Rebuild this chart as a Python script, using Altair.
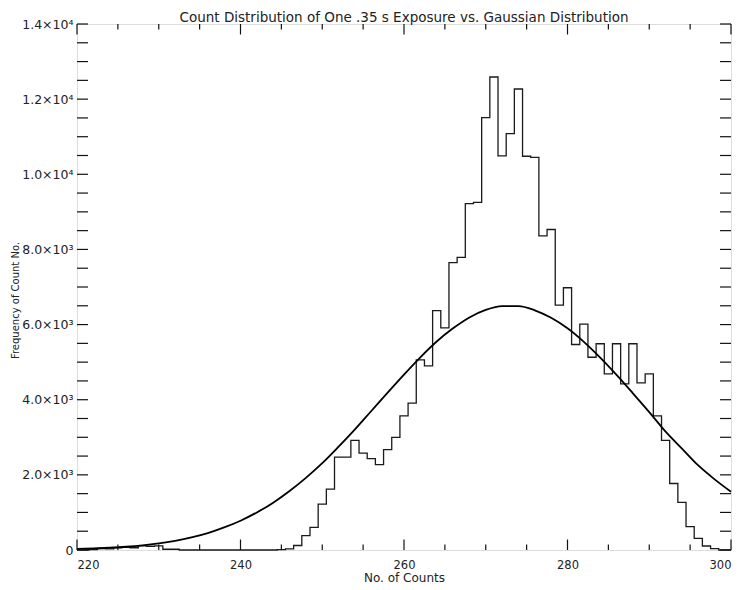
import altair as alt
import pandas as pd

# Histogram: counts per integer bin (No. of Counts)
hist_x = list(range(220, 301))
hist_y = [
    0, 0, 10, 40, 30, 60, 70, 60, 110, 100,          # 220-229
    110, 20, 20, 0, 0, 0, 0, 0, 0, 0,                # 230-239
    0, 0, 0, 0, 0, 10, 30, 120, 380, 600,            # 240-249
    1220, 1620, 2470, 2470, 2920, 2580, 2430, 2270, 2670, 3000,   # 250-259
    3570, 3910, 5060, 4900, 6370, 5910, 7650, 7790, 9220, 9250,   # 260-269
    11510, 12590, 10490, 11080, 12270, 10480, 10450, 8360, 8530, 6520,  # 270-279
    6980, 5470, 6010, 5130, 5490, 4690, 5490, 4420, 5490, 4450,   # 280-289
    4690, 3570, 2920, 1770, 1270, 620, 310, 106, 35, 0,           # 290-299
    0,                                                            # 300
]

# Gaussian curve, values
gauss_x = list(range(220, 301, 2))
gauss_y = [
    27, 40, 60, 87, 124, 176, 244, 333, 448, 600,
    780, 1000, 1260, 1570, 1920, 2310, 2750, 3210, 3700, 4190,
    4670, 5130, 5550, 5900, 6190, 6390, 6490, 6490, 6380, 6180,
    5900, 5540, 5120, 4660, 4170, 3670, 3150, 2700, 2250, 1880,
    1550,
]

x_major = [220, 240, 260, 280, 300]
x_minor = [225, 230, 235, 245, 250, 255, 265, 270, 275, 285, 290, 295]
y_ticks = list(range(0, 14001, 500))
y_major = [0, 2000, 4000, 6000, 8000, 10000, 12000, 14000]
y_labels = ["0", "2.0×10³", "4.0×10³", "6.0×10³", "8.0×10³",
            "1.0×10⁴", "1.2×10⁴", "1.4×10⁴"]

title_text = "Count Distribution of One .35 s Exposure vs. Gaussian Distribution"
x_title = "No. of Counts"
y_title = "Frequency of Count No."

W, H = 654, 526
FONT = "DejaVu Sans"
TXT = "#222222"

label_expr = ""
for v, t in zip(y_major, y_labels):
    label_expr += f"datum.value == {v} ? '{t}' : "
label_expr += "''"

xs = alt.Scale(domain=[220, 300], nice=False, zero=False)
ys = alt.Scale(domain=[0, 14000], nice=False)

hist_df = pd.DataFrame({"x": hist_x, "y": hist_y})
gauss_df = pd.DataFrame({"x": gauss_x, "y": gauss_y})

hist = alt.Chart(hist_df).mark_line(
    interpolate="step", color="#1a1a1a", strokeWidth=1.3
).encode(
    x=alt.X("x:Q", scale=xs, title=x_title, axis=alt.Axis(
        values=x_major, format="d", ticks=False, domain=False, grid=False,
        labelFont=FONT, labelFontSize=11.5, labelColor=TXT, labelPadding=9,
        titleFont=FONT, titleFontSize=12, titleFontWeight="normal",
        titleColor=TXT, titleY=27, titleBaseline="middle")),
    y=alt.Y("y:Q", scale=ys, title=y_title, axis=alt.Axis(
        values=y_major, labelExpr=label_expr, ticks=False, domain=False, grid=False,
        labelFont=FONT, labelFontSize=12.5, labelColor=TXT, labelPadding=4,
        titleFont=FONT, titleFontSize=10, titleFontWeight="normal",
        titleColor=TXT, titleAngle=270, titleX=-57, titleY=276,
        titleBaseline="bottom", titleAlign="center")),
)

gauss = alt.Chart(gauss_df).mark_line(
    interpolate="monotone", color="#000000", strokeWidth=1.8
).encode(
    x=alt.X("x:Q", scale=xs, title=x_title),
    y=alt.Y("y:Q", scale=ys, title=y_title),
)

def xrule(vals, y0, y1):
    return alt.Chart(pd.DataFrame({"v": vals})).mark_rule(
        color="#111111", strokeWidth=1.2
    ).encode(
        x=alt.X("v:Q", scale=xs, title=x_title),
        y=alt.value(y0), y2=alt.value(y1),
    )

def yrule(vals, x0, x1):
    return alt.Chart(pd.DataFrame({"v": vals})).mark_rule(
        color="#111111", strokeWidth=1.2
    ).encode(
        y=alt.Y("v:Q", scale=ys, title=y_title),
        x=alt.value(x0), x2=alt.value(x1),
    )

title_layer = alt.Chart(pd.DataFrame({"t": [title_text]})).mark_text(
    font=FONT, fontSize=13.5, color=TXT, align="center", baseline="middle"
).encode(
    text="t:N", x=alt.value(W / 2), y=alt.value(-6.5),
)

layers = [
    hist,
    gauss,
    xrule(x_major, H, H - 10.5),
    xrule(x_minor, H, H - 5.5),
    xrule(x_major, 0, 10.5),
    xrule(x_minor, 0, 5.5),
    yrule(y_ticks, 0, 11),
    yrule(y_ticks, W, W - 11),
    title_layer,
]

chart = alt.layer(*layers).properties(
    width=W, height=H,
    autosize=alt.AutoSizeParams(type="none"),
    padding={"left": 69, "top": 16, "right": 2, "bottom": 33},
).configure_view(
    stroke="#111111", strokeWidth=1.3
).configure(background="white")

chart.save("out.html", embed_options={"renderer": "svg", "actions": False})
